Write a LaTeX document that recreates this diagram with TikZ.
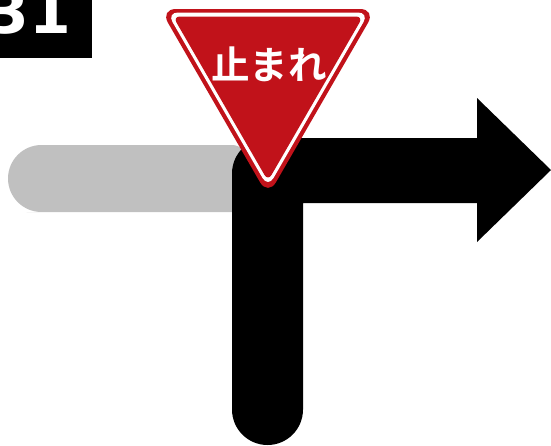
\documentclass[tikz,border=0pt]{standalone}
\usepackage{fontspec}
\usepackage{xcolor}
\setmainfont{DejaVu Sans}
\newfontfamily\jpfont{Noto Sans CJK JP Bold}
\definecolor{signred}{HTML}{C1121A}
\definecolor{roadgray}{HTML}{C0C0C0}

\begin{document}
\begin{tikzpicture}[x=1pt,y=-1pt,
  road node/.style={fill=roadgray},
  turn node/.style={fill=black},
  sign node/.style={fill=signred},
  rim node/.style={fill=white}]

\useasboundingbox (0,0) rectangle (551,445);

% number tag, cut off at the top
\begin{scope}
\clip (0,0) rectangle (92,58);
\fill[black] (0,0) rectangle (92,58);
\node[text=white,inner sep=0pt,anchor=base,font=\bfseries\fontsize{60}{60}\selectfont] (tag) at (29,33) {31};
\end{scope}

% roads
\path[road node,rounded corners=33.5pt] (60,145) -- (8,145) -- (8,212) -- (60,212) [rounded corners=15pt] -- (247,212) -- (247,145) -- cycle;
\path[turn node] (303,203) -- (477,203) -- (477,242) -- (551,170) -- (477,98) -- (477,138) -- (300,138) [rounded corners=35.5pt] -- (232,138) -- (232,445) -- (303,445) [sharp corners] -- cycle;

% sign
\path[sign node,rounded corners=16pt] (160,9) -- (376,9) -- (268,196) -- cycle;
\path[rim node,rounded corners=11pt] (167,12.5) -- (369,12.5) -- (268,187.5) -- cycle;
\path[sign node,rounded corners=7pt] (173,16.5) -- (363,16.5) -- (268,181) -- cycle;
\node[text=white,inner sep=0pt,font=\jpfont\fontsize{38.5}{38.5}\selectfont] (stop) at (269,64) {止まれ};

\end{tikzpicture}
\end{document}
